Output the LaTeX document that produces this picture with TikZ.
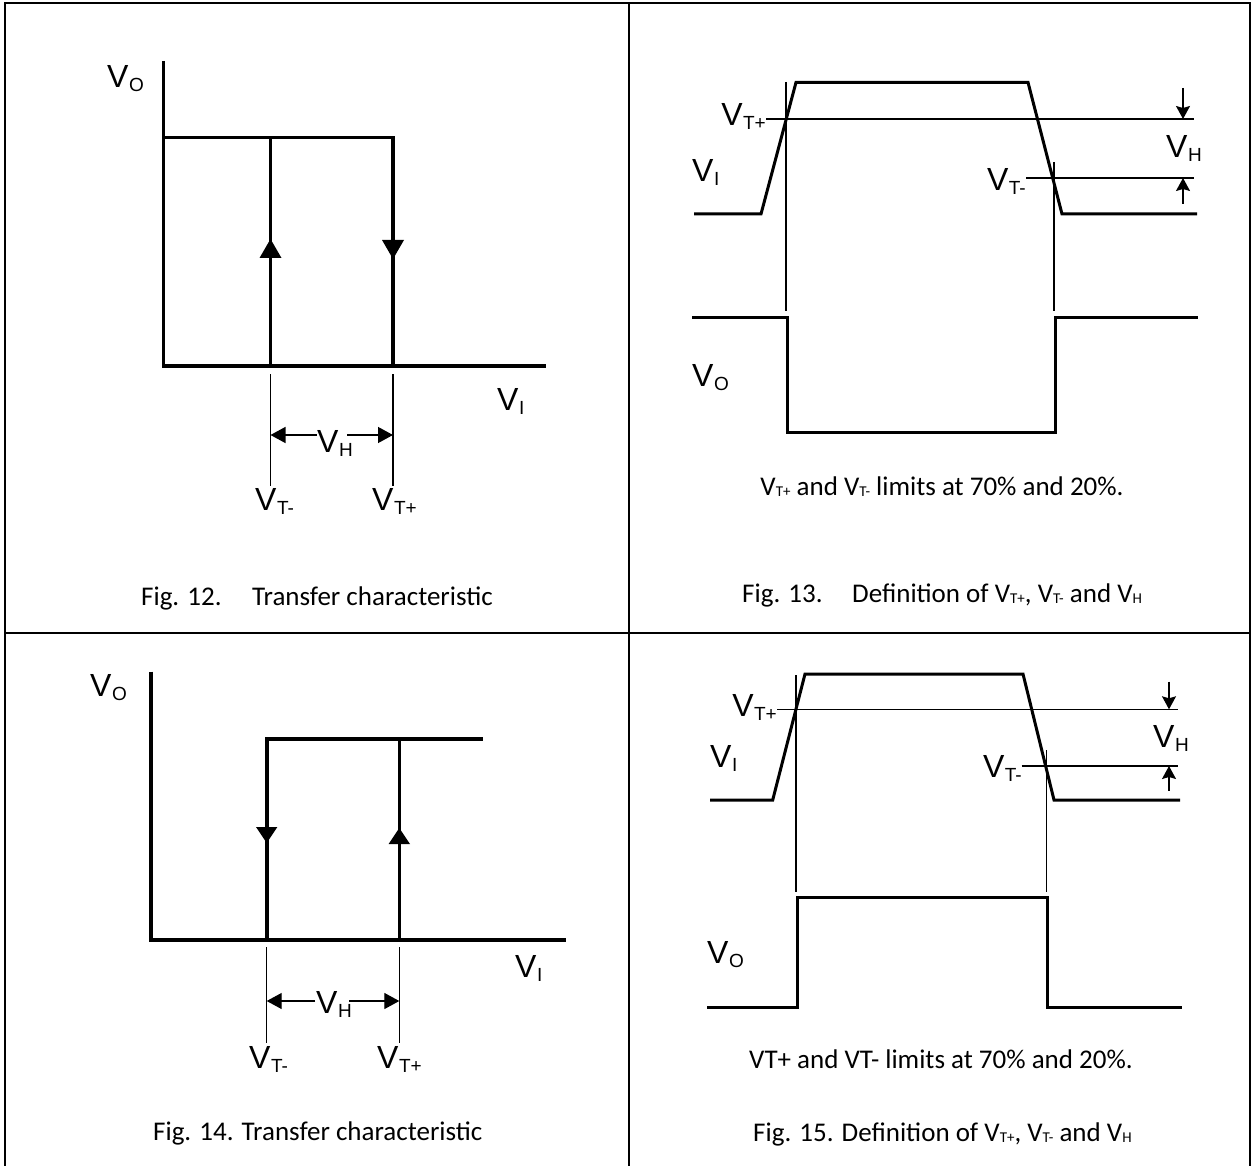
\documentclass[tikz,border=0pt]{standalone}
\usepackage{fontspec}
\setmainfont{Liberation Sans}
\newfontfamily\calfont{Carlito}
\usetikzlibrary{arrows.meta}
\newcommand\Vs[1]{V\kern0.5pt\raisebox{-4pt}{\fontsize{19}{19}\selectfont #1}}
\newcommand\Vc[1]{V\raisebox{-1.5pt}{\fontsize{15}{15}\selectfont #1}}
\tikzset{
  lab/.style={font=\fontsize{32}{32}\selectfont, inner sep=0pt, anchor=base west},
  labr/.style={font=\fontsize{32}{32}\selectfont, inner sep=0pt, anchor=base east},
  captxt/.style={font=\calfont\fontsize{27}{27}\selectfont, inner sep=0pt, anchor=base west},
  notetxt/.style={font=\calfont\fontsize{27}{27}\selectfont, inner sep=0pt, anchor=base},
  trace/.style={line width=3.6pt, line join=miter},
  wave/.style={line width=3pt, line join=miter},
  thinline/.style={line width=1.3pt},
  frameline/.style={line width=2pt},
  dimarrow/.style={line width=1.3pt, -{Triangle[length=15pt,width=16pt]}},
  vharrow/.style={line width=1.3pt, -{Stealth[length=13pt,width=14pt,inset=2pt]}},
  midtip/.style={fill=black}
}
\begin{document}
\begin{tikzpicture}[x=1pt,y=-1pt]
\useasboundingbox (0,0) rectangle (1252,1166);
% ---------- frame ----------
\coordinate (fTL) at (5,3);
\coordinate (fTR) at (1249.5,3);
\coordinate (fBL) at (5,1166);
\coordinate (fBR) at (1249.5,1166);
\coordinate (fMT) at (629,3);
\coordinate (fMB) at (629,1166);
\coordinate (fML) at (5,632.5);
\coordinate (fMR) at (1249.5,632.5);
\draw[frameline] (fBL) -- (fTL) -- (fTR) -- (fBR);
\draw[frameline] (fMT) -- (fMB);
\draw[frameline] (fML) -- (fMR);

% ================= Fig. 12 =================
\coordinate (a12top) at (163.5,61);
\coordinate (a12o) at (163.5,366);
\coordinate (a12x) at (546,366);
\coordinate (h12l) at (163.5,137.5);
\coordinate (h12r) at (393,137.5);
\coordinate (v12lt) at (270.5,137.5);
\coordinate (v12lb) at (270.5,366);
\coordinate (v12rb) at (393,366);
\draw[trace] (a12top) -- (a12o) -- (a12x);
\draw[trace] (h12l) -- (h12r) -- (v12rb);
\draw[trace] (v12lt) -- (v12lb);
\fill[midtip] (270.5,239) -- (259.5,258) -- (281.5,258) -- cycle;
\fill[midtip] (393,259) -- (382,240) -- (404,240) -- cycle;
\draw[thinline] (270.5,374) -- (270.5,486);
\draw[thinline] (393,374) -- (393,486);
\node[lab] (vo12) at (107,88) {\Vs{O}};
\node[lab] (vi12) at (497,410) {\Vs{I}};
\node[lab] (vh12) at (317,452) {\Vs{H}};
\node[lab] (vtm12) at (255,510) {\Vs{T-}};
\node[lab] (vtp12) at (372,510) {\Vs{T+}};
\coordinate (d12l) at (270.5,435);
\coordinate (d12r) at (393,435);
\draw[dimarrow] (317,435) -- (d12l);
\draw[dimarrow] (347,435) -- (d12r);
\node[captxt] (c12a) at (141,605) {Fig. 12.};
\node[captxt] (c12b) at (252,605) {Transfer characteristic};

% ================= Fig. 13 =================
\coordinate (i13a) at (694,214);
\coordinate (i13b) at (761,214);
\coordinate (i13c) at (796,82.4);
\coordinate (i13d) at (1028,82.4);
\coordinate (i13e) at (1062,214);
\coordinate (i13f) at (1197,214);
\draw[wave] (i13a) -- (i13b) -- (i13c) -- (i13d) -- (i13e) -- (i13f);
\coordinate (o13a) at (692,317);
\coordinate (o13b) at (787,317);
\coordinate (o13c) at (787,432);
\coordinate (o13d) at (1055,432);
\coordinate (o13e) at (1055,317);
\coordinate (o13f) at (1198,317);
\draw[wave] (o13a) -- (o13b) -- (o13c) -- (o13d) -- (o13e) -- (o13f);
\draw[thinline] (766,119) -- (1194,119);
\draw[thinline] (1026,178) -- (1194,178);
\draw[thinline] (786,82) -- (786,311);
\draw[thinline] (1054,162) -- (1054,311);
\draw[vharrow] (1183,88) -- (1183,119);
\draw[vharrow] (1183,204) -- (1183,178);
\node[labr] (vtp13) at (766,126) {\Vs{T+}};
\node[lab] (vi13) at (692,182) {\Vs{I}};
\node[labr] (vtm13) at (1026,191) {\Vs{T-}};
\node[lab] (vh13) at (1166,158) {\Vs{H}};
\node[lab] (vo13) at (692,386) {\Vs{O}};
\node[notetxt] (n13) at (942,495) {\Vc{T+} and \Vc{T-} limits at 70\% and 20\%.};
\node[captxt] (c13a) at (742,602) {Fig. 13.};
\node[captxt] (c13b) at (852,602) {Definition of \Vc{T+}, \Vc{T-} and \Vc{H}};

% ================= Fig. 14 =================
\coordinate (a14top) at (150.7,671.7);
\coordinate (a14o) at (150.7,940);
\coordinate (a14x) at (566,940);
\coordinate (h14l) at (266.7,738.7);
\coordinate (h14r) at (483,738.7);
\coordinate (v14lb) at (266.7,940);
\coordinate (v14rt) at (399.3,738.7);
\coordinate (v14rb) at (399.3,940);
\draw[trace] (a14top) -- (a14o) -- (a14x);
\draw[trace] (v14lb) -- (h14l) -- (h14r);
\draw[trace] (v14rt) -- (v14rb);
\fill[midtip] (266.7,843) -- (256,827) -- (277.4,827) -- cycle;
\fill[midtip] (399.3,828) -- (388.6,844) -- (410,844) -- cycle;
\draw[thinline] (266.7,947) -- (266.7,1043);
\draw[thinline] (399.3,947) -- (399.3,1043);
\node[lab] (vo14) at (90,696) {\Vs{O}};
\node[lab] (vi14) at (515,977) {\Vs{I}};
\node[lab] (vh14) at (316,1013) {\Vs{H}};
\node[lab] (vtm14) at (249,1068) {\Vs{T-}};
\node[lab] (vtp14) at (377,1068) {\Vs{T+}};
\coordinate (d14l) at (266.7,1001);
\coordinate (d14r) at (399.3,1001);
\draw[dimarrow] (315,1001) -- (d14l);
\draw[dimarrow] (349,1001) -- (d14r);
\node[captxt] (c14) at (153,1140) {Fig. 14. Transfer characteristic};

% ================= Fig. 15 =================
\coordinate (i15a) at (710,800);
\coordinate (i15b) at (772.7,800);
\coordinate (i15c) at (805,674);
\coordinate (i15d) at (1023,674);
\coordinate (i15e) at (1054,800);
\coordinate (i15f) at (1180,800);
\draw[wave] (i15a) -- (i15b) -- (i15c) -- (i15d) -- (i15e) -- (i15f);
\coordinate (o15a) at (707,1007.7);
\coordinate (o15b) at (797,1007.7);
\coordinate (o15c) at (797,897.7);
\coordinate (o15d) at (1047,897.7);
\coordinate (o15e) at (1047,1007.7);
\coordinate (o15f) at (1182,1007.7);
\draw[wave] (o15a) -- (o15b) -- (o15c) -- (o15d) -- (o15e) -- (o15f);
\draw[thinline] (777,709.3) -- (1178,709.3);
\draw[thinline] (1021.7,766) -- (1178,766);
\draw[thinline] (796,675) -- (796,892);
\draw[thinline] (1046.7,750) -- (1046.7,892);
\draw[vharrow] (1169,681.7) -- (1169,709.3);
\draw[vharrow] (1169,790.7) -- (1169,766);
\node[labr] (vtp15) at (777,716) {\Vs{T+}};
\node[lab] (vi15) at (710,767) {\Vs{I}};
\node[labr] (vtm15) at (1022,777) {\Vs{T-}};
\node[lab] (vh15) at (1153,747) {\Vs{H}};
\node[lab] (vo15) at (707,963) {\Vs{O}};
\node[notetxt] (n15) at (941,1068) {VT+ and VT- limits at 70\% and 20\%.};
\node[captxt] (c15) at (753,1141) {Fig. 15. Definition of \Vc{T+}, \Vc{T-} and \Vc{H}};
\end{tikzpicture}
\end{document}
